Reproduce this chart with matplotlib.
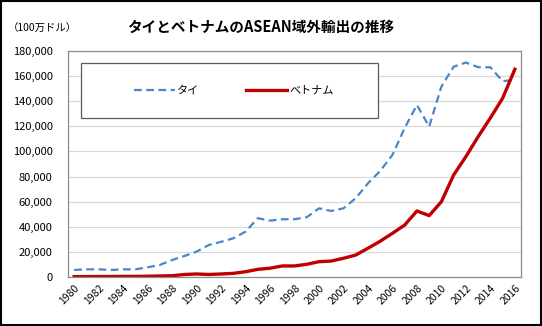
import matplotlib
matplotlib.use('Agg')
import matplotlib.pyplot as plt
import matplotlib.patches as patches

plt.rcParams['font.family'] = ['Noto Sans CJK JP', 'DejaVu Sans']

# data (million USD)
years = list(range(1980, 2017))
thai = [5600, 6100, 6100, 5600, 6100, 6100, 7700, 9600, 13500, 16700,
        20200, 25500, 28000, 30800, 36100, 46800, 44900, 46000, 46000, 47600,
        54700, 52600, 54700, 62700, 74600, 84500, 97200, 118700, 137000, 119800,
        151700, 167500, 170800, 167100, 167000, 156000, 157000]
vietnam = [300, 300, 400, 400, 500, 500, 600, 800, 1000, 2000,
           2400, 2000, 2400, 2900, 4200, 6100, 7000, 8800, 8800, 10100,
           12200, 12700, 14900, 17500, 22900, 28500, 34800, 41400, 52600, 48900,
           60000, 81300, 95900, 111800, 126700, 142400, 165500]
series_names = ['タイ', 'ベトナム']
title = 'タイとベトナムのASEAN域外輸出の推移'
unit_label = '（100万ドル）'

fig = plt.figure(figsize=(5.42, 3.26), dpi=100)
ax = fig.add_axes([68 / 542, 49 / 326, 453 / 542, 226 / 326])

x = list(range(len(years)))
ax.plot(x, thai, color='#4A86C8', linewidth=1.6, linestyle=(0, (3.5, 2)), label=series_names[0])
ax.plot(x, vietnam, color='#C00000', linewidth=2.4, label=series_names[1])

ax.set_xlim(-0.5, len(years) - 0.5)
ax.set_ylim(0, 180000)
ax.set_yticks(range(0, 180001, 20000))
ax.set_yticklabels([f'{v:,}' for v in range(0, 180001, 20000)], fontsize=8)
ax.set_xticks(x[::2])
ax.set_xticklabels([str(y) for y in years[::2]], fontsize=7.5, rotation=45,
                   ha='right', rotation_mode='anchor')
ax.tick_params(axis='y', length=0, pad=11)
ax.tick_params(axis='x', length=0, pad=4)
ax.grid(axis='y', color='#D9D9D9', linewidth=0.9)
ax.set_axisbelow(True)
for s in ax.spines.values():
    s.set_color('#8C8C8C')
    s.set_linewidth(0.9)

# legend box
ax.add_patch(patches.Rectangle((81 / 542, 208 / 326), 297 / 542, 55 / 326,
                               transform=fig.transFigure, facecolor='white',
                               edgecolor='#595959', linewidth=0.9, zorder=4))
leg = ax.legend(loc='center', bbox_to_anchor=((234 - 68) / 453, (235.5 - 49) / 226),
                ncol=2, frameon=False, fontsize=8, handlelength=3.7,
                handletextpad=0.2, columnspacing=4.2)
leg.set_zorder(5)

fig.text(261 / 542, 1 - 27 / 326, title, ha='center', va='center',
         fontsize=10.5, fontweight='bold')
fig.text(8 / 542, 1 - 29 / 326, unit_label, ha='left', va='center', fontsize=7.5)

fig.patches.append(patches.Rectangle((0.002, 0.003), 0.996, 0.994, transform=fig.transFigure,
                                     fill=False, edgecolor='black', linewidth=1.5))

fig.savefig('out.png', dpi=100)
